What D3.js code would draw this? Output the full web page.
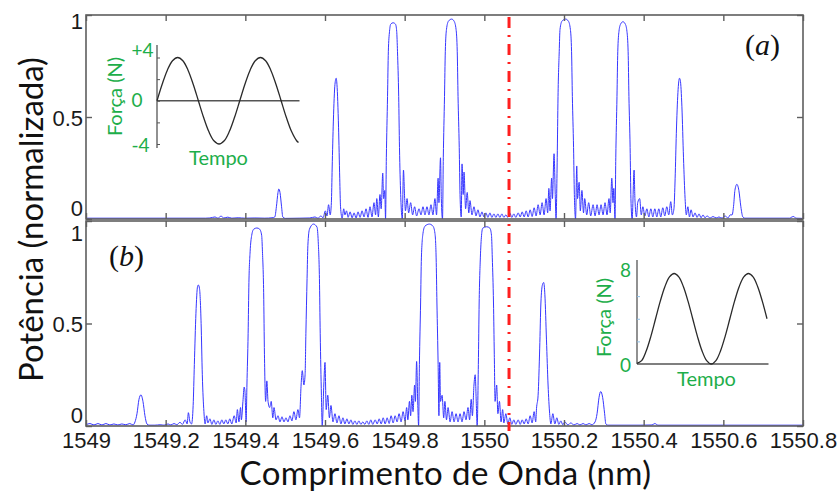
<!DOCTYPE html>
<html>
<head>
<meta charset="utf-8">
<script src="https://cdn.jsdelivr.net/npm/d3@7"></script>
<style>
  html, body { margin: 0; padding: 0; background: #fff; }
  svg { display: block; }
</style>
</head>
<body>
<svg id="chart" width="840" height="493"></svg>
<script>
// Axis ticks
const wavelengthTicks = [1549, 1549.2, 1549.4, 1549.6, 1549.8, 1550, 1550.2, 1550.4, 1550.6, 1550.8];
const powerTicks = [0, 0.5, 1];

// Wavelength of the dash-dot marker line (nm)
const markerWavelength = 1550.062;

// Reflection spectrum (a): [wavelength nm, normalised power]
const spectrumA = [
  [1549.000,0.004],[1549.300,0.004],[1549.311,0.005],[1549.324,0.010],[1549.331,0.004],[1549.339,0.014],[1549.346,0.005],[1549.356,0.009],[1549.366,0.004],[1549.382,0.006],[1549.399,0.004],[1549.424,0.005],[1549.449,0.004],[1549.467,0.006],
  [1549.474,0.010],[1549.478,0.060],[1549.482,0.130],[1549.484,0.147],[1549.487,0.130],[1549.491,0.060],[1549.494,0.010],[1549.500,0.003],
  [1549.537,0.004],[1549.562,0.005],[1549.575,0.010],[1549.582,0.004],[1549.590,0.015],[1549.595,0.006],[1549.601,0.040],[1549.605,0.015],[1549.609,0.070],[1549.613,0.020],
  [1549.616,0.080],[1549.618,0.250],[1549.621,0.480],[1549.625,0.660],[1549.628,0.690],[1549.630,0.660],[1549.634,0.450],[1549.637,0.200],[1549.639,0.060],[1549.643,0.004],[1549.647,0.050],[1549.650,0.020],[1549.654,0.040],[1549.658,0.008],[1549.663,0.035],[1549.668,0.006],[1549.673,0.030],[1549.678,0.005],[1549.683,0.035],[1549.688,0.008],[1549.693,0.040],[1549.698,0.010],[1549.703,0.050],[1549.708,0.008],[1549.713,0.060],[1549.718,0.010],[1549.723,0.080],[1549.727,0.020],[1549.730,0.100],[1549.734,0.010],[1549.738,0.120],[1549.741,0.050],[1549.745,0.225],[1549.747,0.100],[1549.750,0.140],[1549.752,0.000],
  [1549.754,0.300],[1549.757,0.600],[1549.759,0.820],[1549.762,0.920],[1549.765,0.955],[1549.771,0.962],[1549.777,0.955],[1549.780,0.920],[1549.782,0.820],[1549.785,0.600],[1549.787,0.350],[1549.790,0.120],[1549.794,0.000],[1549.797,0.240],[1549.800,0.100],[1549.802,0.040],[1549.806,0.100],[1549.810,0.030],[1549.815,0.080],[1549.820,0.020],[1549.825,0.060],[1549.830,0.015],[1549.836,0.050],[1549.841,0.020],[1549.846,0.060],[1549.851,0.020],[1549.856,0.060],[1549.861,0.020],[1549.866,0.070],[1549.871,0.020],[1549.876,0.100],[1549.880,0.020],[1549.884,0.200],[1549.886,0.080],[1549.890,0.300],[1549.892,0.100],[1549.895,0.000],
  [1549.897,0.300],[1549.900,0.600],[1549.902,0.820],[1549.905,0.930],[1549.910,0.970],[1549.918,0.980],[1549.924,0.970],[1549.929,0.930],[1549.932,0.820],[1549.934,0.600],[1549.937,0.350],[1549.939,0.120],[1549.942,0.010],[1549.944,0.270],[1549.947,0.120],[1549.949,0.230],[1549.953,0.050],[1549.957,0.130],[1549.961,0.030],[1549.964,0.090],[1549.969,0.020],[1549.974,0.060],[1549.979,0.015],[1549.984,0.045],[1549.989,0.010],[1549.994,0.035],[1549.999,0.010],[1550.004,0.030],[1550.009,0.008],[1550.014,0.030],[1550.019,0.008],[1550.024,0.025],[1550.029,0.008],[1550.034,0.025],[1550.039,0.008],[1550.044,0.025],[1550.049,0.008],[1550.054,0.020],[1550.059,0.008],[1550.064,0.030],[1550.069,0.008],[1550.074,0.025],[1550.079,0.008],[1550.085,0.030],[1550.090,0.010],[1550.095,0.035],[1550.100,0.010],[1550.105,0.040],[1550.110,0.010],[1550.115,0.045],[1550.120,0.012],[1550.125,0.055],[1550.130,0.015],[1550.135,0.070],[1550.140,0.020],[1550.145,0.080],[1550.150,0.020],[1550.155,0.100],[1550.159,0.030],[1550.162,0.150],[1550.165,0.040],[1550.169,0.200],[1550.171,0.100],[1550.175,0.320],[1550.178,0.120],[1550.180,0.000],
  [1550.183,0.300],[1550.185,0.600],[1550.188,0.820],[1550.190,0.930],[1550.195,0.970],[1550.204,0.980],[1550.211,0.970],[1550.216,0.930],[1550.219,0.820],[1550.221,0.600],[1550.224,0.350],[1550.226,0.120],[1550.229,0.000],[1550.232,0.260],[1550.234,0.100],[1550.238,0.180],[1550.241,0.040],[1550.245,0.140],[1550.249,0.030],[1550.252,0.100],[1550.257,0.020],[1550.262,0.080],[1550.267,0.015],[1550.273,0.070],[1550.278,0.015],[1550.283,0.070],[1550.288,0.020],[1550.293,0.070],[1550.298,0.020],[1550.303,0.080],[1550.308,0.020],[1550.313,0.100],[1550.316,0.030],[1550.320,0.200],[1550.323,0.080],[1550.325,0.150],[1550.328,0.000],
  [1550.330,0.300],[1550.333,0.600],[1550.335,0.820],[1550.338,0.920],[1550.342,0.955],[1550.348,0.967],[1550.354,0.955],[1550.358,0.920],[1550.361,0.820],[1550.363,0.600],[1550.366,0.350],[1550.368,0.100],[1550.371,0.000],[1550.376,0.240],[1550.378,0.100],[1550.382,0.010],[1550.385,0.080],[1550.390,0.100],[1550.394,0.020],[1550.398,0.060],[1550.403,0.015],[1550.408,0.050],[1550.413,0.010],[1550.418,0.050],[1550.423,0.010],[1550.428,0.050],[1550.433,0.010],[1550.438,0.050],[1550.443,0.010],[1550.448,0.055],[1550.453,0.015],[1550.458,0.060],[1550.463,0.020],[1550.468,0.085],[1550.472,0.020],
  [1550.476,0.050],[1550.479,0.200],[1550.482,0.420],[1550.486,0.620],[1550.490,0.690],[1550.492,0.680],[1550.496,0.550],[1550.500,0.300],[1550.504,0.100],[1550.507,0.020],[1550.511,0.060],[1550.515,0.010],[1550.519,0.045],[1550.524,0.010],[1550.529,0.030],[1550.534,0.008],[1550.539,0.025],[1550.544,0.006],[1550.549,0.020],[1550.554,0.006],[1550.559,0.015],[1550.567,0.005],[1550.574,0.012],[1550.582,0.005],[1550.589,0.010],[1550.597,0.004],[1550.604,0.015],[1550.612,0.005],[1550.617,0.020],
  [1550.622,0.020],[1550.626,0.070],[1550.629,0.140],[1550.634,0.170],[1550.639,0.140],[1550.644,0.060],[1550.649,0.010],[1550.654,0.004],[1550.692,0.004],[1550.767,0.004],[1550.772,0.010],[1550.777,0.012],[1550.782,0.004],[1550.800,0.003]
];

// Reflection spectrum (b): [wavelength nm, normalised power]
const spectrumB = [
  [1549.000,0.006],[1549.010,0.012],[1549.020,0.005],[1549.030,0.012],[1549.040,0.005],[1549.050,0.012],[1549.060,0.005],[1549.070,0.010],[1549.080,0.005],[1549.090,0.010],[1549.100,0.006],[1549.110,0.012],[1549.118,0.005],[1549.123,0.020],
  [1549.128,0.060],[1549.133,0.130],[1549.138,0.152],[1549.143,0.120],[1549.148,0.050],[1549.153,0.010],[1549.158,0.004],[1549.173,0.004],[1549.186,0.006],[1549.196,0.004],[1549.206,0.010],[1549.213,0.005],[1549.221,0.012],[1549.228,0.006],[1549.236,0.018],[1549.242,0.008],[1549.249,0.030],[1549.254,0.010],[1549.257,0.065],[1549.261,0.020],[1549.265,0.010],
  [1549.269,0.100],[1549.272,0.300],[1549.276,0.550],[1549.280,0.680],[1549.282,0.688],[1549.285,0.670],[1549.289,0.500],[1549.292,0.250],[1549.296,0.070],[1549.299,0.010],[1549.303,0.050],[1549.306,0.015],[1549.311,0.035],[1549.316,0.008],[1549.321,0.030],[1549.326,0.008],[1549.331,0.025],[1549.336,0.008],[1549.341,0.030],[1549.346,0.010],[1549.351,0.030],[1549.356,0.010],[1549.361,0.035],[1549.366,0.010],[1549.372,0.050],[1549.377,0.015],[1549.380,0.080],[1549.384,0.020],[1549.388,0.090],[1549.390,0.030],[1549.394,0.120],[1549.397,0.190],[1549.399,0.170],[1549.402,0.020],
  [1549.404,0.200],[1549.407,0.450],[1549.409,0.700],[1549.412,0.850],[1549.416,0.930],[1549.421,0.960],[1549.429,0.966],[1549.436,0.960],[1549.441,0.930],[1549.443,0.850],[1549.446,0.650],[1549.448,0.350],[1549.451,0.120],[1549.454,0.220],[1549.457,0.120],[1549.461,0.090],[1549.465,0.120],[1549.469,0.040],[1549.472,0.090],[1549.477,0.030],[1549.482,0.050],[1549.487,0.020],[1549.492,0.045],[1549.497,0.020],[1549.502,0.040],[1549.507,0.020],[1549.512,0.050],[1549.517,0.025],[1549.522,0.070],[1549.527,0.030],[1549.532,0.080],[1549.536,0.040],[1549.540,0.200],[1549.543,0.270],[1549.547,0.200],[1549.550,0.250],
  [1549.552,0.450],[1549.555,0.720],[1549.557,0.880],[1549.561,0.960],[1549.571,0.985],[1549.580,0.970],[1549.583,0.900],[1549.586,0.720],[1549.588,0.450],[1549.591,0.150],[1549.593,0.000],[1549.597,0.200],[1549.600,0.310],[1549.603,0.080],[1549.607,0.150],[1549.611,0.040],[1549.615,0.100],[1549.620,0.020],[1549.625,0.060],[1549.630,0.015],[1549.635,0.050],[1549.640,0.010],[1549.645,0.040],[1549.650,0.010],[1549.655,0.035],[1549.660,0.010],[1549.665,0.030],[1549.670,0.008],[1549.675,0.025],[1549.680,0.008],[1549.685,0.025],[1549.690,0.008],[1549.695,0.020],[1549.700,0.008],[1549.705,0.025],[1549.710,0.008],[1549.715,0.030],[1549.720,0.008],[1549.726,0.030],[1549.731,0.010],[1549.736,0.035],[1549.741,0.010],[1549.746,0.040],[1549.751,0.010],[1549.756,0.040],[1549.761,0.012],[1549.766,0.050],[1549.771,0.015],[1549.776,0.050],[1549.781,0.020],[1549.786,0.060],[1549.791,0.020],[1549.796,0.070],[1549.801,0.025],[1549.805,0.090],[1549.808,0.030],[1549.812,0.120],[1549.815,0.050],[1549.818,0.150],[1549.821,0.070],[1549.825,0.200],[1549.827,0.120],[1549.830,0.315],[1549.833,0.100],[1549.835,0.000],
  [1549.837,0.300],[1549.840,0.600],[1549.842,0.820],[1549.846,0.940],[1549.851,0.975],[1549.862,0.985],[1549.871,0.975],[1549.876,0.940],[1549.879,0.820],[1549.881,0.600],[1549.884,0.300],[1549.886,0.050],[1549.888,0.310],[1549.890,0.120],[1549.894,0.150],[1549.898,0.040],[1549.901,0.120],[1549.905,0.030],[1549.909,0.090],[1549.914,0.020],[1549.919,0.070],[1549.924,0.020],[1549.929,0.060],[1549.934,0.020],[1549.939,0.060],[1549.944,0.020],[1549.949,0.070],[1549.954,0.030],[1549.959,0.090],[1549.963,0.030],[1549.967,0.130],[1549.970,0.050],[1549.974,0.200],[1549.977,0.250],[1549.980,0.100],[1549.982,0.000],
  [1549.985,0.300],[1549.987,0.600],[1549.990,0.820],[1549.993,0.930],[1549.996,0.965],[1550.006,0.972],[1550.014,0.965],[1550.018,0.930],[1550.020,0.820],[1550.023,0.600],[1550.025,0.350],[1550.027,0.120],[1550.031,0.200],[1550.034,0.060],[1550.038,0.120],[1550.042,0.020],[1550.046,0.080],[1550.049,0.015],[1550.054,0.060],[1550.059,0.010],[1550.064,0.040],[1550.069,0.008],[1550.074,0.030],[1550.079,0.008],[1550.085,0.030],[1550.090,0.008],[1550.095,0.030],[1550.100,0.010],[1550.105,0.035],[1550.110,0.010],[1550.115,0.050],[1550.120,0.015],[1550.125,0.070],[1550.129,0.020],[1550.131,0.085],
  [1550.135,0.150],[1550.139,0.380],[1550.142,0.600],[1550.146,0.690],[1550.149,0.700],[1550.152,0.640],[1550.156,0.420],[1550.160,0.200],[1550.164,0.060],[1550.167,0.010],[1550.172,0.060],[1550.177,0.010],[1550.182,0.040],[1550.187,0.008],[1550.192,0.025],[1550.197,0.006],[1550.202,0.020],[1550.210,0.005],[1550.217,0.015],[1550.225,0.005],[1550.233,0.012],[1550.240,0.005],[1550.248,0.012],[1550.255,0.005],[1550.263,0.012],[1550.270,0.006],[1550.278,0.020],
  [1550.283,0.060],[1550.288,0.140],[1550.292,0.168],[1550.297,0.140],[1550.302,0.060],[1550.305,0.010],[1550.310,0.004],[1550.391,0.004],[1550.421,0.005],[1550.428,0.012],[1550.436,0.004],[1550.466,0.004],[1550.800,0.004]
];

// Inset (a): applied force over time (periods), N
const insetTimeA  = [0,0.0625,0.125,0.1875,0.25,0.3125,0.375,0.4375,0.5,0.5625,0.625,0.6875,0.75,0.8125,0.875,0.9375,1,1.0625,1.125,1.1875,1.25,1.3125,1.375,1.4375,1.5,1.5625,1.625,1.6875,1.71];
const insetForceA = [0,1.53,2.83,3.70,4,3.70,2.83,1.53,0,-1.53,-2.83,-3.70,-4,-3.70,-2.83,-1.53,0,1.53,2.83,3.70,4,3.70,2.83,1.53,0,-1.53,-2.83,-3.70,-3.87];
const insetTicksA = [-4, 0, 4];
const insetTickLabelsA = ["-4", "0", "+4"];

// Inset (b): applied force over time (periods), N
const insetTimeB  = [0,0.0625,0.125,0.1875,0.25,0.3125,0.375,0.4375,0.5,0.5625,0.625,0.6875,0.75,0.8125,0.875,0.9375,1,1.0625,1.125,1.1875,1.25,1.3125,1.375,1.4375,1.5,1.5625,1.625,1.6875,1.75];
const insetForceB = [0.05,0.30,1.17,2.47,4,5.53,6.83,7.70,8,7.70,6.83,5.53,4,2.47,1.17,0.30,0,0.30,1.17,2.47,4,5.53,6.83,7.70,8,7.70,6.83,5.53,4];
const insetTicksB = [0, 8];
const insetTickLabelsB = ["0", "8"];

// ---------------------------------------------------------------
const svg = d3.select("#chart");
const W = 840, H = 493;
svg.append("rect").attr("width", W).attr("height", H).attr("fill", "#fff");

const plotLeft = 86, plotRight = 803;
const panels = [
  { id: "a", data: spectrumA, top: 15,  bottom: 219, tag: "a", tagX: 745, tagY: 55,  labelShift: { 1: 6, 0.5: 1, 0: -11 } },
  { id: "b", data: spectrumB, top: 221, bottom: 426, tag: "b", tagX: 109, tagY: 266, labelShift: { 1: 12, 0.5: 1, 0: -11 } }
];

const x = d3.scaleLinear().domain([1549, 1550.8]).range([plotLeft, plotRight]);
const frameColor = "#5e5e5e";
const lineColor = "#3636ff";
const tickFont = "'Liberation Sans', Arial, sans-serif";
const titleFont = "Lato, 'Open Sans', sans-serif";
const green = "#1dae4a";

panels.forEach((p, i) => {
  const y = d3.scaleLinear().domain([0, 1]).range([p.bottom, p.top]);
  const g = svg.append("g");

  const clipId = "clip-" + p.id;
  svg.append("clipPath").attr("id", clipId)
    .append("rect").attr("x", plotLeft).attr("y", p.top - 2)
    .attr("width", plotRight - plotLeft).attr("height", p.bottom - p.top + 2);

  // spectrum trace
  const line = d3.line().x(d => x(d[0])).y(d => y(d[1])).curve(d3.curveMonotoneX);
  g.append("path")
    .datum(p.data)
    .attr("clip-path", `url(#${clipId})`)
    .attr("fill", "none")
    .attr("stroke", lineColor)
    .attr("stroke-width", 1)
    .attr("stroke-linejoin", "round")
    .attr("d", line);

  // inward ticks on all four sides
  const bottomAxis = g.append("g").attr("transform", `translate(0,${p.bottom})`)
    .call(d3.axisBottom(x).tickValues(wavelengthTicks).tickSize(-6).tickSizeOuter(0).tickPadding(6)
      .tickFormat(i === 1 ? d3.format("~f") : () => ""));
  const topAxis = g.append("g").attr("transform", `translate(0,${p.top})`)
    .call(d3.axisTop(x).tickValues(wavelengthTicks).tickSize(-6).tickSizeOuter(0).tickFormat(() => ""));
  const leftAxis = g.append("g").attr("transform", `translate(${plotLeft},0)`)
    .call(d3.axisLeft(y).tickValues(powerTicks).tickSize(-6).tickSizeOuter(0).tickPadding(3)
      .tickFormat(d3.format("~g")));
  const rightAxis = g.append("g").attr("transform", `translate(${plotRight},0)`)
    .call(d3.axisRight(y).tickValues(powerTicks).tickSize(-6).tickSizeOuter(0).tickFormat(() => ""));

  [bottomAxis, topAxis, leftAxis, rightAxis].forEach(a => {
    a.select(".domain").remove();
    a.selectAll(".tick line").attr("stroke", frameColor).attr("stroke-width", 1.4);
    a.selectAll(".tick text").attr("fill", "#1a1a1a")
      .attr("font-family", tickFont).attr("font-size", 22);
  });
  // keep the end labels inside the panel height
  leftAxis.selectAll(".tick text")
    .attr("transform", d => `translate(0,${p.labelShift[d]})`);

  // frame
  g.append("rect")
    .attr("x", plotLeft).attr("y", p.top)
    .attr("width", plotRight - plotLeft).attr("height", p.bottom - p.top)
    .attr("fill", "none").attr("stroke", frameColor).attr("stroke-width", 1.6);

  // panel tag
  const tag = g.append("text")
    .attr("x", p.tagX).attr("y", p.tagY)
    .attr("font-family", "'Liberation Serif', 'Times New Roman', serif")
    .attr("font-size", 30).attr("fill", "#111");
  tag.append("tspan").text("(");
  tag.append("tspan").attr("font-style", "italic").text(p.tag);
  tag.append("tspan").text(")");
});

// dash-dot marker spanning both panels
svg.append("line")
  .attr("x1", x(markerWavelength)).attr("x2", x(markerWavelength))
  .attr("y1", panels[0].top + 2).attr("y2", panels[1].bottom + 5)
  .attr("stroke", "#ff1f1f").attr("stroke-width", 3)
  .attr("stroke-dasharray", "11,7,2,7");

// ----- insets -----
function drawInset(opt) {
  const tx = d3.scaleLinear().domain(opt.tDomain).range(opt.xRange);
  const fy = d3.scaleLinear().domain(opt.fDomain).range(opt.yRange);
  const g = svg.append("g");

  // axis lines
  g.append("line").attr("x1", opt.xRange[0]).attr("x2", opt.xRange[0])
    .attr("y1", opt.axisTop).attr("y2", opt.axisBottom)
    .attr("stroke", "#555").attr("stroke-width", 1.3);
  g.append("line").attr("x1", opt.xRange[0]).attr("x2", opt.hEnd)
    .attr("y1", fy(opt.hValue)).attr("y2", fy(opt.hValue))
    .attr("stroke", "#555").attr("stroke-width", 1.3);

  // small ticks
  g.append("g").attr("transform", `translate(${opt.xRange[0]},0)`)
    .call(d3.axisLeft(fy).tickValues(opt.minorTicks).tickSize(-3).tickFormat(() => ""))
    .call(a => a.select(".domain").remove())
    .call(a => a.selectAll(".tick line").attr("stroke", opt.minorColor).attr("stroke-width", 1));

  // curve
  const pts = opt.time.map((t, k) => [t, opt.force[k]]);
  g.append("path").datum(pts)
    .attr("fill", "none").attr("stroke", "#2a2a2a").attr("stroke-width", 1.3)
    .attr("d", d3.line().x(d => tx(d[0])).y(d => fy(d[1])).curve(d3.curveCatmullRom));

  // tick labels (left aligned block)
  g.selectAll("text.tl").data(opt.ticks).enter().append("text")
    .attr("class", "tl")
    .attr("x", opt.labelX)
    .attr("y", (d, k) => fy(d) + opt.labelShift[k])
    .attr("dy", "0.35em")
    .attr("font-family", titleFont).attr("font-size", 19).attr("fill", green)
    .text((d, k) => opt.tickLabels[k]);

  // axis titles
  g.append("text")
    .attr("transform", `translate(${opt.yTitle[0]},${opt.yTitle[1]}) rotate(-90)`)
    .attr("text-anchor", "middle").attr("dy", "0.35em")
    .attr("font-family", titleFont).attr("font-size", 20).attr("fill", green)
    .text("Força (N)");
  g.append("text")
    .attr("x", opt.xTitle[0]).attr("y", opt.xTitle[1])
    .attr("text-anchor", "middle")
    .attr("font-family", titleFont).attr("font-size", 20).attr("fill", green)
    .text("Tempo");
}

drawInset({
  time: insetTimeA, force: insetForceA, ticks: insetTicksA, tickLabels: insetTickLabelsA,
  tDomain: [0, 1.71], xRange: [157, 298.5], fDomain: [-4, 4], yRange: [144, 57.5],
  axisTop: 45, axisBottom: 148, hValue: 0, hEnd: 299.5,
  minorTicks: [-4, -2, 0, 2, 4], minorColor: "#555",
  labelX: 131.5, labelShift: [1, 0, -7],
  yTitle: [115, 96.5], xTitle: [218.5, 165]
});

drawInset({
  time: insetTimeB, force: insetForceB, ticks: insetTicksB, tickLabels: insetTickLabelsB,
  tDomain: [0, 1.75], xRange: [637, 767], fDomain: [0, 8], yRange: [364, 273.5],
  axisTop: 260, axisBottom: 364, hValue: 0, hEnd: 768.5,
  minorTicks: [2, 4, 6], minorColor: "#8fbfe6",
  labelX: 620, labelShift: [1, -3],
  yTitle: [603.5, 317.5], xTitle: [706.5, 386]
});

// ----- axis titles -----
svg.append("text")
  .attr("x", (plotLeft + plotRight) / 2 + 1).attr("y", 485)
  .attr("text-anchor", "middle")
  .attr("font-family", titleFont).attr("font-size", 33).attr("letter-spacing", 0.4)
  .attr("fill", "#111")
  .text("Comprimento de Onda (nm)");

svg.append("text")
  .attr("transform", `translate(43,${(panels[0].top + panels[1].bottom) / 2 - 1}) rotate(-90)`)
  .attr("text-anchor", "middle")
  .attr("font-family", titleFont).attr("font-size", 33).attr("fill", "#111")
  .text("Potência (normalizada)");
</script>
</body>
</html>
